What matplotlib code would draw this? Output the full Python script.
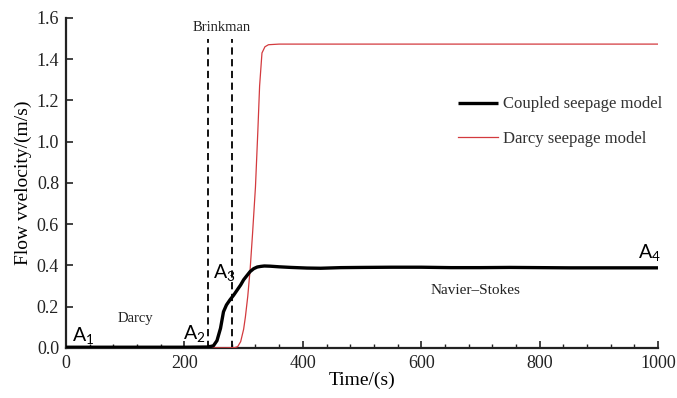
import matplotlib
matplotlib.use('Agg')
import matplotlib.pyplot as plt
from matplotlib.ticker import MultipleLocator

# coupled seepage model (black)
t_coupled = [0, 100, 200, 240, 249, 255, 261, 266, 271, 277, 283, 289, 295, 300, 306,
             311, 317, 323, 329, 335, 345, 360, 380, 407, 430, 464, 500, 550, 600,
             650, 700, 750, 800, 850, 900, 950, 1000]
v_coupled = [0.003, 0.003, 0.003, 0.004, 0.01, 0.035, 0.095, 0.175, 0.208, 0.233, 0.255,
             0.28, 0.305, 0.33, 0.352, 0.37, 0.384, 0.392, 0.395, 0.397, 0.396, 0.393,
             0.39, 0.387, 0.386, 0.389, 0.39, 0.391, 0.391, 0.389, 0.389, 0.39, 0.389,
             0.388, 0.388, 0.388, 0.388]

# darcy seepage model (red)
t_darcy = [0, 270, 285, 290, 295, 300, 303, 307, 311, 315, 320, 324, 327, 331, 336,
           342, 360, 1000]
v_darcy = [0, 0, 0.001, 0.006, 0.03, 0.09, 0.15, 0.25, 0.38, 0.55, 0.78, 1.05, 1.27,
           1.43, 1.46, 1.47, 1.473, 1.473]

zone_lines = [240, 280]

serif = 'Liberation Serif'
sans = 'Lato'
plt.rcParams['font.family'] = serif
plt.rcParams['mathtext.fontset'] = 'custom'
plt.rcParams['mathtext.rm'] = sans

fig = plt.figure(figsize=(6.77, 3.98), dpi=100)
ax = fig.add_axes([0.0975, 0.126, 0.8745, 0.829])

ax.plot(t_coupled, v_coupled, color='black', lw=2.4, label='Coupled seepage model',
        solid_capstyle='butt', zorder=4)
ax.plot(t_darcy, v_darcy, color='#d33a3e', lw=0.9, label='Darcy seepage model', zorder=3)

for xl in zone_lines:
    ax.plot([xl, xl], [0, 1.5], color='black', lw=1.3, linestyle=(0, (4, 2.5)), zorder=2)

ax.set_xlim(0, 1000)
ax.set_ylim(0, 1.6)
ax.xaxis.set_major_locator(MultipleLocator(200))
ax.xaxis.set_minor_locator(MultipleLocator(40))
ax.yaxis.set_major_locator(MultipleLocator(0.2))
ax.yaxis.set_major_formatter(matplotlib.ticker.FormatStrFormatter('%.1f'))

for s in ['top', 'right']:
    ax.spines[s].set_visible(False)
for s in ['left', 'bottom']:
    ax.spines[s].set_linewidth(1.6)
    ax.spines[s].set_color('#222222')

ax.tick_params(which='major', direction='in', length=5, width=1.2, labelsize=13,
               colors='#222222', pad=5)
ax.tick_params(which='minor', direction='in', length=3, width=1.0, colors='#222222')
ax.tick_params(axis='y', which='minor', left=False)

ax.set_xlabel('Time/(s)', fontsize=14, labelpad=0)
ax.set_ylabel('Flow vvelocity/(m/s)', fontsize=14, labelpad=3)

ax.legend(loc='center left', bbox_to_anchor=(0.662, 0.686), frameon=False, fontsize=12,
          handlelength=2.4, handletextpad=0.3, labelspacing=1.1, borderpad=0,
          borderaxespad=0, labelcolor='#333333')

ax.text(10, 0.035, r'$\mathregular{A_1}$', fontsize=14, family=sans)
ax.text(198, 0.045, r'$\mathregular{A_2}$', fontsize=14, family=sans)
ax.text(249, 0.34, r'$\mathregular{A_3}$', fontsize=14, family=sans)
ax.text(966, 0.435, r'$\mathregular{A_4}$', fontsize=14, family=sans)

ax.text(117, 0.14, 'Darcy', fontsize=10.5, ha='center', va='center', color='#222222')
ax.text(692, 0.28, 'Navier\u2013Stokes', fontsize=11, ha='center', va='center', color='#222222')
ax.text(263, 1.555, 'Brinkman', fontsize=10.5, ha='center', va='center', color='#222222')

fig.savefig('out.png', dpi=100)
